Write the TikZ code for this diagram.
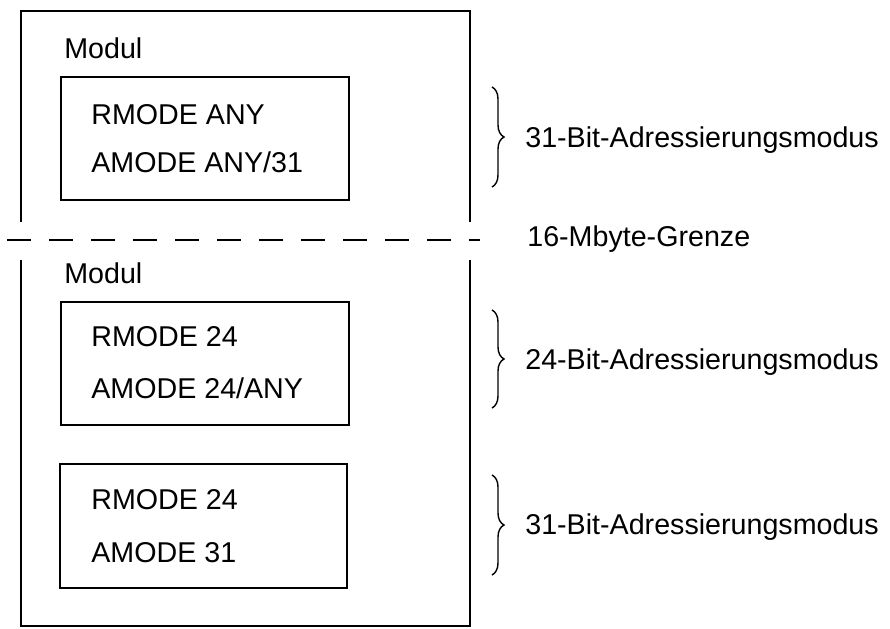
\documentclass[tikz,border=0pt]{standalone}
\usepackage{fontspec}
\setmainfont{Liberation Sans}
\usetikzlibrary{decorations.pathreplacing}

\tikzset{
  modbox/.style={draw, line width=1pt, inner sep=0pt},
  txt/.style={anchor=base west, inner sep=0pt, font=\fontsize{16.3}{19}\selectfont},
  klammer/.style={decorate, decoration={brace, amplitude=0.24cm}, line width=0.8pt}
}

\begin{document}
\begin{tikzpicture}
            \useasboundingbox (0,0) rectangle (17.8,12.58);

            % Outer frame, broken at the boundary
            \draw[line width=1pt] (0.42,8.14) -- (0.42,12.36) -- (9.40,12.36) -- (9.40,8.14);
            \draw[line width=1pt] (0.42,7.38) -- (0.42,0.06) -- (9.40,0.06) -- (9.40,7.38);
            \draw[line width=1pt, dash pattern=on 0.48cm off 0.36cm] (0.14,7.78) -- (9.60,7.78);

            % Upper part
            \node[txt] (modA) at (1.28,11.40) {Modul};
            \node[modbox, minimum width=5.76cm, minimum height=2.46cm] (boxA) at (4.10,9.81) {};
            \node[txt] (rA) at (1.82,10.08) {RMODE ANY};
            \node[txt] (aA) at (1.82,9.12) {AMODE ANY/31};

            % Lower part
            \node[txt] (modB) at (1.28,6.90) {Modul};
            \node[modbox, minimum width=5.76cm, minimum height=2.46cm] (boxB) at (4.10,5.31) {};
            \node[txt] (rB) at (1.82,5.64) {RMODE 24};
            \node[txt] (aB) at (1.82,4.60) {AMODE 24/ANY};
            \node[modbox, minimum width=5.74cm, minimum height=2.48cm] (boxC) at (4.07,2.06) {};
            \node[txt] (rC) at (1.82,2.38) {RMODE 24};
            \node[txt] (aC) at (1.82,1.32) {AMODE 31};

            % Braces and labels
            \coordinate (b1o) at (9.84,10.84);
            \coordinate (b1u) at (9.84,8.84);
            \coordinate (b2o) at (9.84,6.38);
            \coordinate (b2u) at (9.84,4.42);
            \coordinate (b3o) at (9.84,3.08);
            \coordinate (b3u) at (9.84,1.08);
            \draw[klammer] (b1o) -- (b1u);
            \draw[klammer] (b2o) -- (b2u);
            \draw[klammer] (b3o) -- (b3u);

            \node[txt] (l1) at (10.50,9.62) {31-Bit-Adressierungsmodus};
            \node[txt] (grenze) at (10.54,7.64) {16-Mbyte-Grenze};
            \node[txt] (l2) at (10.50,5.18) {24-Bit-Adressierungsmodus};
            \node[txt] (l3) at (10.50,1.88) {31-Bit-Adressierungsmodus};
          \end{tikzpicture}
\end{document}
